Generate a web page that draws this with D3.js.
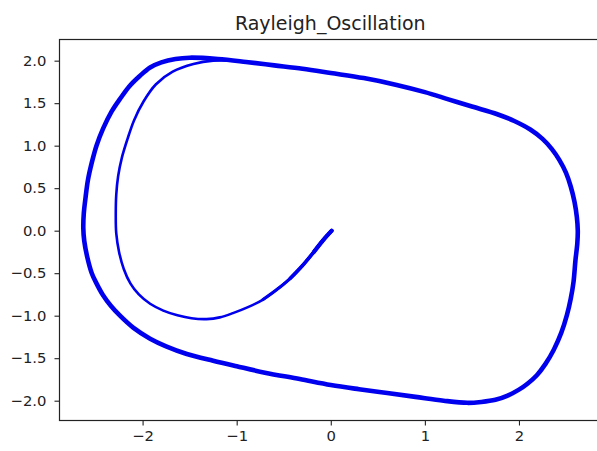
<!DOCTYPE html>
<html>
<head>
<meta charset="utf-8">
<script src="https://cdn.jsdelivr.net/npm/d3@7"></script>
<style>
  html, body { margin: 0; padding: 0; background: #fff; }
  svg { display: block; }
  text { font-family: "DejaVu Sans", sans-serif; fill: #222; }
</style>
</head>
<body>
<script>
// Phase portrait of the Rayleigh oscillator: position x against velocity y.

// Transient path from the origin spiralling out until it joins the cycle.
const transientX = [0.01, -0.08, -0.18, -0.30, -0.43, -0.57, -0.72, -0.88, -1.04, -1.18, -1.32, -1.48, -1.63, -1.78, -1.92, -2.04, -2.13, -2.20, -2.25, -2.28, -2.285, -2.28, -2.26, -2.22, -2.16, -2.09, -1.99, -1.86, -1.68, -1.46, -1.25, -1.05];
const transientY = [0.00, -0.11, -0.25, -0.41, -0.56, -0.69, -0.81, -0.90, -0.97, -1.02, -1.04, -1.03, -0.995, -0.94, -0.86, -0.75, -0.62, -0.45, -0.25, -0.03, 0.20, 0.42, 0.64, 0.86, 1.08, 1.30, 1.52, 1.72, 1.87, 1.96, 2.00, 2.00];

// Limit cycle, traced clockwise from its peak.
const cycleX = [-1.50, -1.20, -0.90, -0.60, -0.30, 0.00, 0.35, 0.70, 1.00, 1.25, 1.50, 1.77, 1.95, 2.12, 2.25, 2.35, 2.43, 2.50, 2.55, 2.59, 2.615, 2.625,
  2.62, 2.60, 2.58, 2.55, 2.51, 2.45, 2.37, 2.28, 2.19, 2.09, 2.00, 1.88, 1.75, 1.60, 1.45, 1.20, 0.90, 0.60, 0.30, 0.00,
  -0.33, -0.70, -1.00, -1.25, -1.53, -1.75, -1.92, -2.10, -2.24, -2.34, -2.42, -2.49, -2.54, -2.59, -2.62, -2.63,
  -2.625, -2.605, -2.58, -2.54, -2.49, -2.42, -2.33, -2.24, -2.14, -2.03, -1.92, -1.80, -1.65];
const cycleY = [2.035, 2.02, 1.985, 1.945, 1.905, 1.855, 1.795, 1.715, 1.63, 1.545, 1.46, 1.37, 1.29, 1.19, 1.08, 0.96, 0.83, 0.68, 0.52, 0.34, 0.16, 0.00,
  -0.15, -0.35, -0.60, -0.80, -0.99, -1.20, -1.40, -1.57, -1.70, -1.80, -1.87, -1.94, -1.99, -2.015, -2.025, -2.00, -1.955, -1.91, -1.865, -1.815,
  -1.745, -1.67, -1.595, -1.53, -1.45, -1.36, -1.27, -1.14, -1.00, -0.88, -0.76, -0.62, -0.50, -0.30, -0.12, 0.03,
  0.20, 0.40, 0.60, 0.80, 1.00, 1.20, 1.40, 1.55, 1.70, 1.82, 1.92, 1.98, 2.02];

const xTicks = [-2, -1, 0, 1, 2];
const yTicks = [-2.0, -1.5, -1.0, -0.5, 0.0, 0.5, 1.0, 1.5, 2.0];
const chartTitle = "Rayleigh_Oscillation";

const W = 597, H = 451;
const plot = { left: 59.5, top: 39.5, right: 603, bottom: 420.5 };

const svg = d3.select("body").append("svg")
  .attr("width", W).attr("height", H)
  .attr("viewBox", `0 0 ${W} ${H}`);

svg.append("rect").attr("width", W).attr("height", H).attr("fill", "#fff");

const x = d3.scaleLinear().domain([-2.883, 2.893]).range([plot.left, plot.right]);
const y = d3.scaleLinear().domain([-2.233, 2.249]).range([plot.bottom, plot.top]);

const minus = s => s.replace("-", "\u2212");

// Curves
const line = d3.line()
  .x(d => x(d[0])).y(d => y(d[1]))
  .curve(d3.curveCatmullRom.alpha(0.5));
const lineClosed = d3.line()
  .x(d => x(d[0])).y(d => y(d[1]))
  .curve(d3.curveCatmullRomClosed.alpha(0.5));

const cyclePts = cycleX.map((v, i) => [v, cycleY[i]]);
const transPts = transientX.map((v, i) => [v, transientY[i]]);

const blue = "#0000ee";
const g = svg.append("g");
g.append("path")
  .attr("d", lineClosed(cyclePts))
  .attr("fill", "none").attr("stroke", blue)
  .attr("stroke-width", 4.6).attr("stroke-linejoin", "round");
g.append("path")
  .attr("d", line(transPts))
  .attr("fill", "none").attr("stroke", blue)
  .attr("stroke-width", 2.6).attr("stroke-linecap", "round").attr("stroke-linejoin", "round");
// the start of the transient is denser, so it reads heavier near the origin
[[7, 3.1], [5, 3.6], [3, 4.2]].forEach(([n, w]) => {
  g.append("path")
    .attr("d", line(transPts.slice(0, n)))
    .attr("fill", "none").attr("stroke", blue)
    .attr("stroke-width", w).attr("stroke-linecap", "round");
});

// Axes
const fontSize = 14.8;
const xAxis = d3.axisBottom(x).tickValues(xTicks).tickSize(5).tickPadding(4)
  .tickFormat(d => minus(d3.format("d")(d)));
const yAxis = d3.axisLeft(y).tickValues(yTicks).tickSize(5).tickPadding(8)
  .tickFormat(d => minus(d3.format(".1f")(d)));

const gx = svg.append("g").attr("transform", `translate(0,${plot.bottom})`).call(xAxis);
const gy = svg.append("g").attr("transform", `translate(${plot.left},0)`).call(yAxis);
[gx, gy].forEach(a => {
  a.select(".domain").remove();
  a.selectAll(".tick line").attr("stroke", "#222").attr("stroke-width", 1.1);
  a.selectAll(".tick text")
    .attr("font-family", "DejaVu Sans, sans-serif")
    .attr("font-size", fontSize).attr("fill", "#222");
});
gx.selectAll(".tick text").attr("dy", "0.75em");

// Frame
svg.append("rect")
  .attr("x", plot.left).attr("y", plot.top)
  .attr("width", plot.right - plot.left).attr("height", plot.bottom - plot.top)
  .attr("fill", "none").attr("stroke", "#222").attr("stroke-width", 1.2);

// Title
svg.append("text")
  .attr("x", (plot.left + plot.right) / 2 - 1).attr("y", 30)
  .attr("text-anchor", "middle")
  .attr("font-size", 19).text(chartTitle);
</script>
</body>
</html>
